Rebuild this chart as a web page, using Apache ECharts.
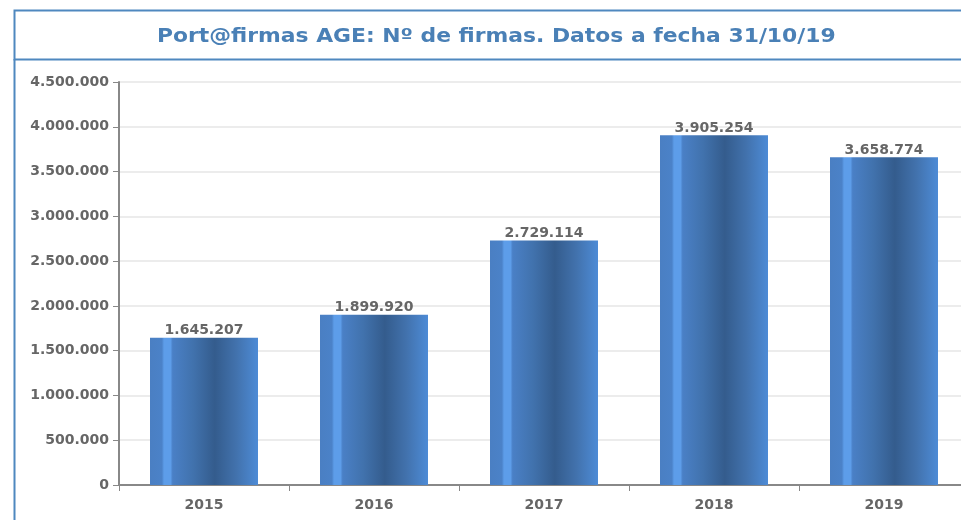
<!DOCTYPE html>
<html><head><meta charset="utf-8">
<script src="https://cdn.jsdelivr.net/npm/echarts@6/dist/echarts.min.js"></script>
<style>html,body{margin:0;padding:0;background:#fff}#c{width:961px;height:520px}</style>
</head><body><div id="c"></div>
<script>
const titleText = "Port@firmas AGE: Nº de firmas. Datos a fecha 31/10/19";
const categories = ["2015", "2016", "2017", "2018", "2019"];
const values = [1645207, 1899920, 2729114, 3905254, 3658774];
const yTicks = [0, 500000, 1000000, 1500000, 2000000, 2500000, 3000000, 3500000, 4000000, 4500000];

function fmt(v){ return String(v).replace(/\B(?=(\d{3})+(?!\d))/g, "."); }

const chart = echarts.init(document.getElementById('c'));
const grad = new echarts.graphic.LinearGradient(0,0,1,0,[
  {offset:0, color:'#4a7fc3'},
  {offset:0.11, color:'#4b82c8'},
  {offset:0.13, color:'#5d9de9'},
  {offset:0.19, color:'#5d9de9'},
  {offset:0.21, color:'#4a80c6'},
  {offset:0.40, color:'#4172ad'},
  {offset:0.60, color:'#345c8d'},
  {offset:0.80, color:'#4272ad'},
  {offset:1, color:'#4d8bd6'}
]);
chart.setOption({
  animation:false,
  graphic:[
    {type:'rect', shape:{x:14.5,y:10.5,width:1000,height:49}, style:{fill:'#fff', stroke:'#4f88bf', lineWidth:2}},
    {type:'line', shape:{x1:14.5,y1:59,x2:14.5,y2:520}, style:{stroke:'#4f88bf', lineWidth:2}},
    {type:'text', x:157, y:37, scaleX:1.15, style:{text:titleText, fill:'#4a80b6', font:'bold 19px "DejaVu Sans"', textVerticalAlign:'middle'}}
  ],
  grid:{left:119, top:82, right:-8, bottom:35, containLabel:false, outerBoundsMode:'none'},
  xAxis:{type:'category', data:categories,
    axisLine:{lineStyle:{color:'#888', width:2}},
    axisTick:{show:true, length:6, lineStyle:{color:'#888', width:1}},
    axisLabel:{color:'#666', fontFamily:'DejaVu Sans', fontWeight:'bold', fontSize:14, margin:13}},
  yAxis:{type:'value', min:0, max:4500000, interval:500000,
    axisLine:{show:true, lineStyle:{color:'#888', width:2}},
    axisTick:{show:true, length:6, lineStyle:{color:'#888'}},
    splitLine:{lineStyle:{color:'#e6e6e6', width:1.5}},
    axisLabel:{color:'#666', fontFamily:'DejaVu Sans', fontWeight:'bold', fontSize:14, margin:10,
      formatter:v=>fmt(v)}},
  series:[{type:'bar', data:values, barWidth:108,
    itemStyle:{color:grad},
    label:{show:true, position:'top', distance:0, color:'#666', fontFamily:'DejaVu Sans', fontWeight:'bold', fontSize:14,
      formatter:p=>fmt(p.value)}}]
});
</script></body></html>
